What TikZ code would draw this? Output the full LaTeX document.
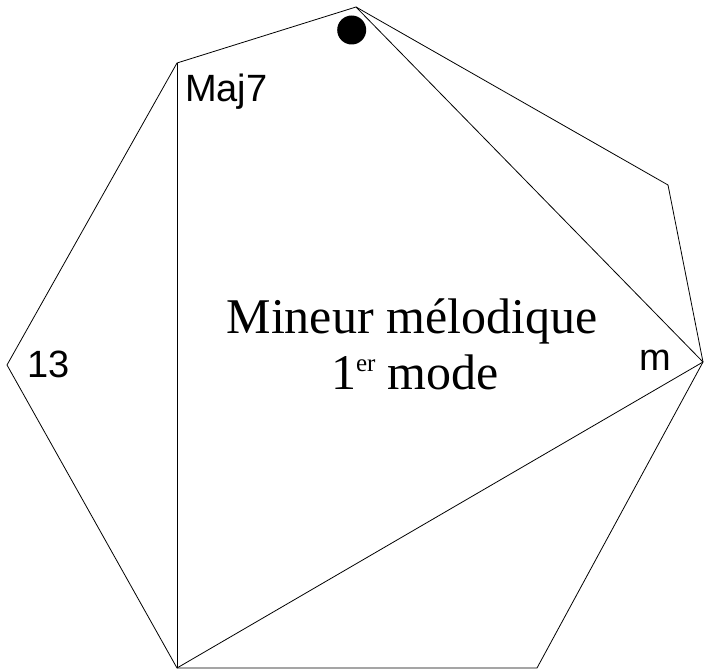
\documentclass[tikz,border=0pt]{standalone}
\usepackage{fontspec}
\setmainfont{Liberation Serif}
\newfontfamily\labelfont{Liberation Sans}
\usetikzlibrary{positioning}

\begin{document}
\begin{tikzpicture}[
  x=1pt, y=-1pt,
  side/.style={draw, line width=0.8pt, line join=miter},
  chord/.style={inner sep=0pt, anchor=base west, font=\labelfont\fontsize{38}{42}\selectfont},
  title/.style={inner sep=0pt, anchor=base, font=\fontsize{50}{58}\selectfont}
]
  \useasboundingbox (0,0) rectangle (704,671);
  % vertices of the heptagon
  \coordinate (top) at (356,7);
  \coordinate (upright) at (668,185);
  \coordinate (right) at (703,362);
  \coordinate (lowright) at (537,668);
  \coordinate (lowleft) at (177,668);
  \coordinate (left) at (7,365);
  \coordinate (upleft) at (177,63);

  \draw[side] (top) -- (upright) -- (right) -- (lowright) -- (lowleft) -- (left) -- (upleft) -- cycle;
  \draw[side] (upleft) -- (lowleft);
  \draw[side] (top) -- (right);
  \draw[side] (lowleft) -- (right);

  \fill (351.7,30) circle (14.5);

  \node[chord] (maj) at (185,101.7) {Maj7};
  \node[chord] (treize) at (27,377) {13};
  \node[chord] (mineur) at (639,370.5) {m};

  \node[title] (name) at (412,333) {Mineur mélodique};
  \node[title] (mode) at (415,389.5) {1\raisebox{18pt}{\fontsize{25}{27}\selectfont er} mode};
\end{tikzpicture}
\end{document}
